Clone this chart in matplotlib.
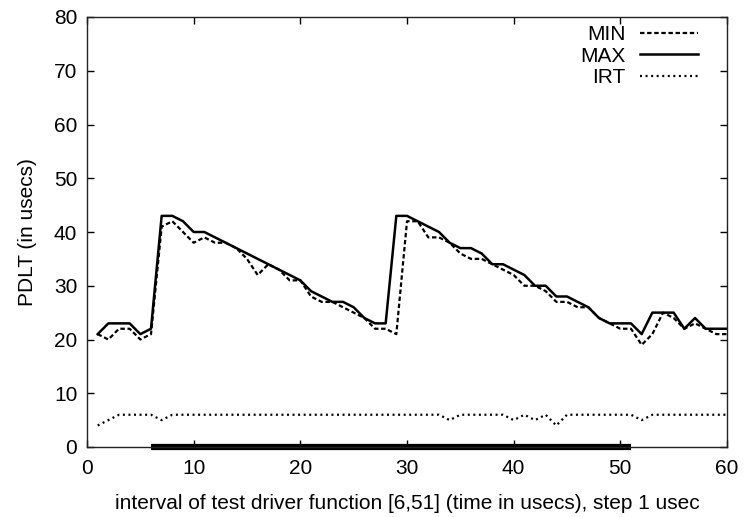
import numpy as np
import matplotlib
matplotlib.use("Agg")
import matplotlib.pyplot as plt

plt.rcParams['font.family'] = ['Liberation Sans', 'DejaVu Sans']

# step of the test driver (usecs)
steps = list(range(1, 61))

pdlt_min = [21, 20, 22, 22, 20, 21, 41, 42, 40, 38,
            39, 38, 38, 37, 35, 32, 34, 33, 31, 31,
            28, 27, 27, 26, 25, 24, 22, 22, 21, 42,
            42, 39, 39, 38, 36, 35, 35, 34, 33, 32,
            30, 30, 29, 27, 27, 26, 26, 24, 23, 22,
            22, 19, 21, 25, 24, 22, 23, 22, 21, 21]

pdlt_max = [21, 23, 23, 23, 21, 22, 43, 43, 42, 40,
            40, 39, 38, 37, 36, 35, 34, 33, 32, 31,
            29, 28, 27, 27, 26, 24, 23, 23, 43, 43,
            42, 41, 40, 38, 37, 37, 36, 34, 34, 33,
            32, 30, 30, 28, 28, 27, 26, 24, 23, 23,
            23, 21, 25, 25, 25, 22, 24, 22, 22, 22]

irt = [4, 5, 6, 6, 6, 6, 5, 6, 6, 6,
       6, 6, 6, 6, 6, 6, 6, 6, 6, 6,
       6, 6, 6, 6, 6, 6, 6, 6, 6, 6,
       6, 6, 6, 5, 6, 6, 6, 6, 6, 5,
       6, 5, 6, 4, 6, 6, 6, 6, 6, 6,
       6, 5, 6, 6, 6, 6, 6, 6, 6, 6]

driver_interval = [6, 51]

fs = 15

fig = plt.figure(figsize=(7.48, 5.17), dpi=100)
fig.subplots_adjust(left=87/748, right=727/748, top=1-17/517, bottom=1-447/517)
ax = fig.add_subplot(111)

ax.plot(steps, pdlt_min, color='black', lw=1.6, ls=(0, (2.0, 1.2)), label='MIN')
ax.plot(steps, pdlt_max, color='black', lw=1.8, ls='-', label='MAX')
ax.plot(steps, irt, color='black', lw=1.6, ls=(0, (0.9, 1.6)), label='IRT')

# interval of the test driver function
ax.plot(driver_interval, [0, 0], color='black', lw=4.5, solid_capstyle='butt', clip_on=False)

ax.set_xlim(0, 60)
ax.set_ylim(0, 80)
ax.set_xticks(range(0, 61, 10))
ax.set_yticks(range(0, 81, 10))
ax.tick_params(direction='in', top=True, right=True, length=5, width=1, labelsize=fs)
ax.tick_params(axis='x', pad=9)
ax.tick_params(axis='y', pad=7)
for s in ax.spines.values():
    s.set_linewidth(1)
    s.set_color('#222222')

ax.set_xlabel('interval of test driver function [6,51] (time in usecs), step 1 usec', fontsize=fs, labelpad=11)
ax.set_ylabel('PDLT (in usecs)', fontsize=fs, labelpad=12)

ax.legend(loc='upper right', bbox_to_anchor=(0.955, 0.981), frameon=False, markerfirst=False,
          fontsize=fs, handlelength=2.8, handletextpad=0.7, labelspacing=0.12, borderpad=0,
          borderaxespad=0)

fig.savefig('out.png', dpi=100)
